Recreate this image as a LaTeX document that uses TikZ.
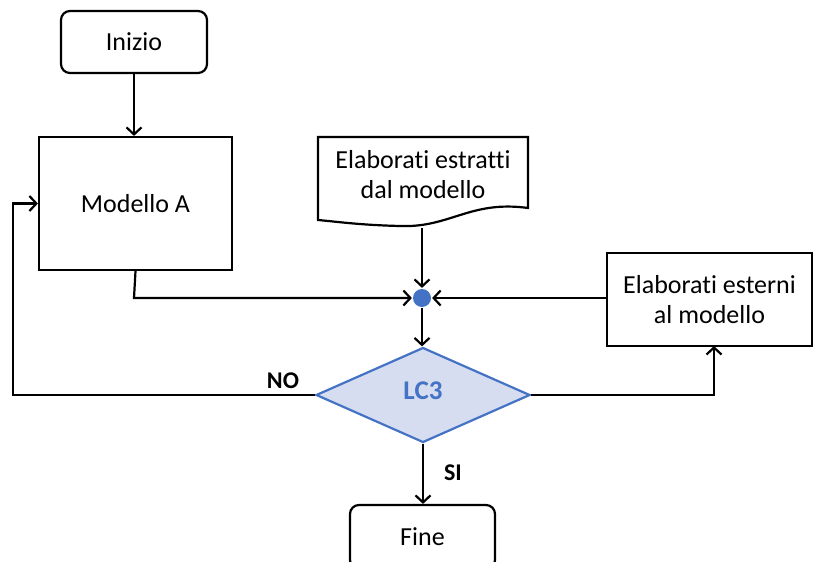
\documentclass[tikz,border=0pt]{standalone}
\usepackage{fontspec}
\setmainfont{Carlito}[Ligatures=NoCommon]
\usetikzlibrary{arrows.meta,shapes.geometric}
\definecolor{accent}{HTML}{4472C4}
\definecolor{dfill}{HTML}{D6DDF0}
\begin{document}
\begin{tikzpicture}[x=1pt,y=-1pt,
  line width=2.2pt,
  txt/.style={font=\fontsize{26}{30}\selectfont, align=center},
  roundbox/.style={draw, rounded corners=9pt, line width=2.2pt, txt, inner sep=0pt},
  plainbox/.style={draw, line width=2.2pt, txt, inner sep=0pt},
  conn/.style={-{Straight Barb[length=7pt,width=15pt,line width=2.2pt]}, line width=2.2pt},
  lbl/.style={font=\fontsize{24}{28}\selectfont\bfseries}]
\useasboundingbox (0,0) rectangle (814,562);

\node[roundbox, minimum width=146pt, minimum height=62pt] (start) at (134,42) {Inizio};
\node[plainbox, minimum width=193pt, minimum height=133pt] (modA) at (135.5,203.5) {Modello A};
\node[plainbox, minimum width=205pt, minimum height=93pt] (ext) at (709.5,299.5) {Elaborati esterni\\al modello};

% document shape
\draw[line width=2.2pt] (318,137) -- (528,137) -- (528,208)
  .. controls (470,200) and (450,228) .. (400,226)
  .. controls (360,225) and (340,222) .. (318,220) -- cycle;
\node[txt] (doc) at (423,175) {Elaborati estratti\\dal modello};
\coordinate (docb) at (422,228);

\node[circle, fill=accent, minimum size=18pt, inner sep=0pt] (dot) at (422,298) {};

\node[diamond, draw=accent, fill=dfill, line width=2.2pt, minimum width=214pt, minimum height=95pt, inner sep=0pt, aspect=2.25] (lc) at (423,395) {};
\node[font=\fontsize{27}{31}\selectfont\bfseries, text=accent] (lct) at (423,391) {LC3};

\node[roundbox, minimum width=145pt, minimum height=64pt] (fine) at (422.5,537) {Fine};

% connectors
\draw[conn] (start.south) -- (start.south |- modA.north);
\draw[conn] (modA.south) -- (134,298) -- (dot.west);
\draw[conn] (docb) -- (dot.north);
\draw[conn] (ext.west |- dot) -- (dot.east);
\draw[conn] (dot.south) -- (dot.south |- lc.north);
\draw[conn] (lc.east) -- (714,395) -- (714,346);
\coordinate (lb) at (13,395);
\draw[conn] (lc.west) -- (lb) -- (13,203.5) -- (modA.west);
\draw[conn] (lc.south) -- (lc.south |- fine.north);

\node[lbl] (no) at (283,381) {NO};
\node[lbl] (si) at (453,473) {SI};
\end{tikzpicture}
\end{document}
